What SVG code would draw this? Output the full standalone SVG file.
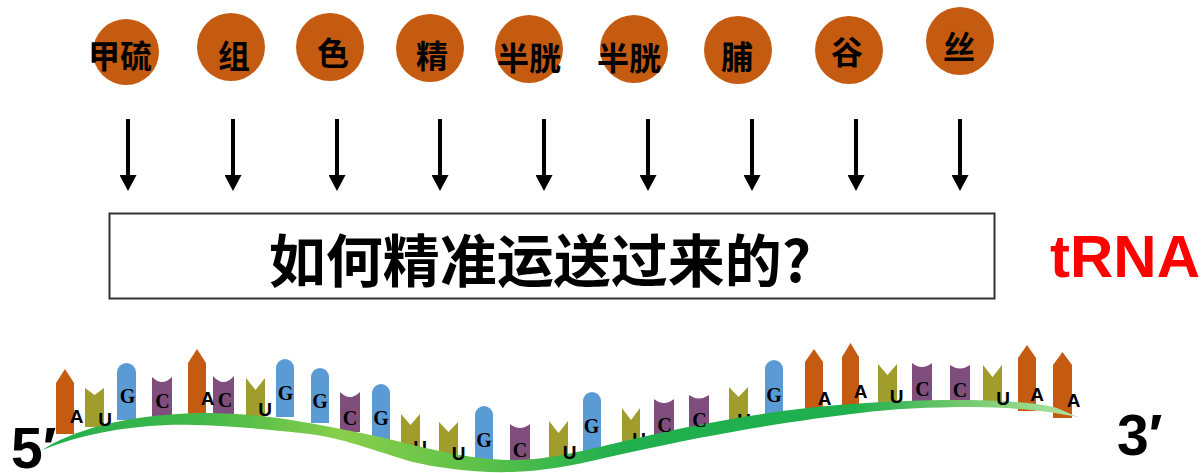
<svg xmlns="http://www.w3.org/2000/svg" width="1204" height="473" viewBox="0 0 1204 473">
  <style>
    .aa { fill: #C55A11; }
    .aa-t { font-family: "Noto Sans CJK SC", "Liberation Sans", sans-serif; font-weight: 700; font-size: 32px; text-anchor: middle; fill: #000; }
    .arrow { stroke: #000; stroke-width: 4; fill: none; marker-end: url(#head); }
    .box { fill: #fff; stroke: #333; stroke-width: 2; }
    .q { font-family: "Noto Sans CJK SC", "Liberation Sans", sans-serif; font-weight: 700; font-size: 57px; text-anchor: middle; fill: #000; }
    .trna { font-family: "Liberation Sans", "Noto Sans CJK SC", sans-serif; font-weight: 700; font-size: 59px; fill: #FF0000; }
    .end { font-family: "Liberation Sans", "Noto Sans", sans-serif; font-weight: 700; font-size: 57px; fill: #000; }
    .bA { fill: #C55A11; }
    .bU { fill: #A09D2D; }
    .bG { fill: #5B9BD5; }
    .bC { fill: #7F4E7D; }
    .ls { font-family: "Liberation Sans", Arial, sans-serif; font-weight: 700; font-size: 19px; text-anchor: middle; fill: #000; }
    .lr { font-family: "Liberation Serif", "Times New Roman", serif; font-weight: 700; font-size: 20px; text-anchor: middle; fill: #000; }
  </style>
  <defs>
    <marker id="head" viewBox="0 0 16 17" refX="0" refY="8.5" markerWidth="16" markerHeight="17" markerUnits="userSpaceOnUse" orient="auto">
      <path d="M0,0 L16,8.5 L0,17 Z" fill="#000"/>
    </marker>
    <linearGradient id="strandFill" gradientUnits="userSpaceOnUse" x1="42" y1="0" x2="1080" y2="0">
      <stop offset="0" stop-color="#22AE4C"/>
      <stop offset="0.15" stop-color="#41B849"/>
      <stop offset="0.29" stop-color="#88CE4B"/>
      <stop offset="0.42" stop-color="#5DC149"/>
      <stop offset="0.55" stop-color="#22B04E"/>
      <stop offset="0.78" stop-color="#1FAF4E"/>
      <stop offset="0.88" stop-color="#6FC76C"/>
      <stop offset="1" stop-color="#B2E3A0"/>
    </linearGradient>
  </defs>

  <!-- amino acids -->
  <g id="amino-acids">
    <g id="aa-met"><circle class="aa" cx="126" cy="52" r="33"/><text class="aa-t" x="120" y="68">甲硫</text></g>
    <g id="aa-his"><circle class="aa" cx="231" cy="47" r="34"/><text class="aa-t" x="234" y="68">组</text></g>
    <g id="aa-ser"><circle class="aa" cx="330" cy="47" r="34"/><text class="aa-t" x="333" y="65">色</text></g>
    <g id="aa-arg"><circle class="aa" cx="430" cy="48" r="34"/><text class="aa-t" x="432" y="68">精</text></g>
    <g id="aa-cys1"><circle class="aa" cx="529" cy="49" r="34"/><text class="aa-t" x="529" y="70">半胱</text></g>
    <g id="aa-cys2"><circle class="aa" cx="634" cy="49" r="34"/><text class="aa-t" x="629" y="70">半胱</text></g>
    <g id="aa-pro"><circle class="aa" cx="738" cy="50" r="34"/><text class="aa-t" x="737" y="69">脯</text></g>
    <g id="aa-glu"><circle class="aa" cx="849" cy="50" r="34"/><text class="aa-t" x="847" y="64">谷</text></g>
    <g id="aa-ser2"><circle class="aa" cx="960" cy="41" r="34"/><text class="aa-t" x="959" y="59">丝</text></g>
  </g>

  <!-- arrows from amino acids down to the question box -->
  <g id="connectors">
    <line class="arrow" x1="128" y1="119" x2="128" y2="175"/>
    <line class="arrow" x1="233" y1="119" x2="233" y2="175"/>
    <line class="arrow" x1="337" y1="119" x2="337" y2="175"/>
    <line class="arrow" x1="440" y1="119" x2="440" y2="175"/>
    <line class="arrow" x1="544" y1="119" x2="544" y2="175"/>
    <line class="arrow" x1="648" y1="119" x2="648" y2="175"/>
    <line class="arrow" x1="752" y1="119" x2="752" y2="175"/>
    <line class="arrow" x1="856" y1="119" x2="856" y2="175"/>
    <line class="arrow" x1="960" y1="119" x2="960" y2="175"/>
  </g>

  <g id="question">
    <rect class="box" x="109.5" y="213.5" width="885" height="85"/>
    <text class="q" x="540" y="282">如何精准运送过来的?</text>
  </g>

  <g id="trna-label">
    <text class="trna" x="1050" y="277" textLength="150" lengthAdjust="spacingAndGlyphs">tRNA</text>
  </g>

  <!-- codon bases standing on the strand -->
  <g id="bases">
    <g id="b01"><path class="bA" d="M56,434V383L65,369L74,383V434Z"/></g>
    <g id="b02"><path class="bU" d="M85,427V388L94.5,395L104,388V427Z"/></g>
    <g id="b03"><path class="bG" d="M117,420V372.5A9.5,9.5 0 0 1 136,372.5V420Z"/></g>
    <g id="b04"><path class="bC" d="M152,419V377Q162,387 172,377V419Z"/></g>
    <g id="b05"><path class="bA" d="M188,415V363L197,349L206,363V415Z"/></g>
    <g id="b06"><path class="bC" d="M213,418V376Q223.5,388 234,376V418Z"/></g>
    <g id="b07"><path class="bU" d="M246,417V378L255.5,390L265,378V417Z"/></g>
    <g id="b08"><path class="bG" d="M276,417V368A9,9 0 0 1 294,368V417Z"/></g>
    <g id="b09"><path class="bG" d="M311,423V377A9,9 0 0 1 329,377V423Z"/></g>
    <g id="b10"><path class="bC" d="M340,432V392Q350,402 360,392V432Z"/></g>
    <g id="b11"><path class="bG" d="M372,442V393A9,9 0 0 1 390,393V442Z"/></g>
    <g id="b12"><path class="bU" d="M401,452V414L410.5,425L420,414V452Z"/><text class="ls" x="420" y="454">U</text></g>
    <g id="b13"><path class="bU" d="M439,461V422L448.5,432L458,422V461Z"/></g>
    <g id="b14"><path class="bG" d="M475,464V415A9,9 0 0 1 493,415V464Z"/></g>
    <g id="b15"><path class="bC" d="M510,462V424Q520,432 530,424V462Z"/></g>
    <g id="b16"><path class="bU" d="M549,461V421L558.5,433L568,421V461Z"/></g>
    <g id="b17"><path class="bG" d="M583,451V401A9,9 0 0 1 601,401V451Z"/></g>
    <g id="b18"><path class="bU" d="M622,444V408L631,420L640,408V444Z"/><text class="ls" x="639" y="446">U</text></g>
    <g id="b19"><path class="bC" d="M654,438V399Q664,407 674,399V438Z"/></g>
    <g id="b20"><path class="bC" d="M689,432V395Q699,402 709,395V432Z"/></g>
    <g id="b21"><path class="bU" d="M729,424V387L738.5,397L748,387V424Z"/><text class="ls" x="744" y="427">U</text></g>
    <g id="b22"><path class="bG" d="M765,419V369A9,9 0 0 1 783,369V419Z"/></g>
    <g id="b23"><path class="bA" d="M805,411V362L814,349L823,362V411Z"/></g>
    <g id="b24"><path class="bA" d="M842,407V357L850.5,343L859,357V407Z"/></g>
    <g id="b25"><path class="bU" d="M878,403V364L887.5,375L897,364V403Z"/></g>
    <g id="b26"><path class="bC" d="M912,405V363Q922,371 932,363V405Z"/></g>
    <g id="b27"><path class="bC" d="M950,406V365Q960,372 970,365V406Z"/></g>
    <g id="b28"><path class="bU" d="M983,405V365L992.5,377L1002,365V405Z"/></g>
    <g id="b29"><path class="bA" d="M1018,411V358L1027,345L1036,358V411Z"/></g>
    <g id="b30"><path class="bA" d="M1053,418V365L1062.5,352L1072,365V418Z"/></g>
  </g>

  <!-- mRNA strand -->
  <g id="strand">
    <path fill="url(#strandFill)" d="M42,450 C70,432 120,415 200,413 C250,412 300,420 380,437 C430,449 470,460 513,460 C560,460 600,445 693,426 C760,413 820,404 907,401 C960,399 1030,400 1057,408 L1080,418 C1060,412 1010,407 973,407 C930,407 890,409 860,413 C800,420 720,432 627,453 C590,461 560,470 513,472 C470,473 440,468 413,462 C380,453 340,436 300,433 C260,428 200,424 167,425 C120,427 80,435 42,450 Z"/>
  </g>

  <!-- base letters -->
  <g id="base-letters">
    <text class="ls" x="76.5" y="423">A</text>
    <text class="ls" x="105" y="426">U</text>
    <text class="lr" x="127.5" y="403">G</text>
    <text class="lr" x="162.5" y="408">C</text>
    <text class="ls" x="207.5" y="405">A</text>
    <text class="lr" x="225" y="407">C</text>
    <text class="ls" x="265" y="416">U</text>
    <text class="lr" x="285.5" y="400">G</text>
    <text class="lr" x="320" y="408">G</text>
    <text class="lr" x="350" y="425">C</text>
    <text class="lr" x="381" y="425">G</text>
    <text class="ls" x="458.5" y="460">U</text>
    <text class="lr" x="484" y="447">G</text>
    <text class="lr" x="520" y="457">C</text>
    <text class="ls" x="569.5" y="459">U</text>
    <text class="lr" x="591.5" y="433">G</text>
    <text class="lr" x="664.5" y="432">C</text>
    <text class="lr" x="699.5" y="427">C</text>
    <text class="lr" x="774" y="402">G</text>
    <text class="ls" x="824.5" y="405">A</text>
    <text class="ls" x="860.5" y="398">A</text>
    <text class="ls" x="896.5" y="403">U</text>
    <text class="lr" x="922.5" y="396">C</text>
    <text class="lr" x="960" y="397">C</text>
    <text class="ls" x="1003" y="405">U</text>
    <text class="ls" x="1037" y="401">A</text>
    <text class="ls" x="1073.5" y="407">A</text>
  </g>

  <g id="ends">
    <text class="end" x="11" y="468">5′</text>
    <text class="end" x="1117" y="455">3′</text>
  </g>
</svg>
